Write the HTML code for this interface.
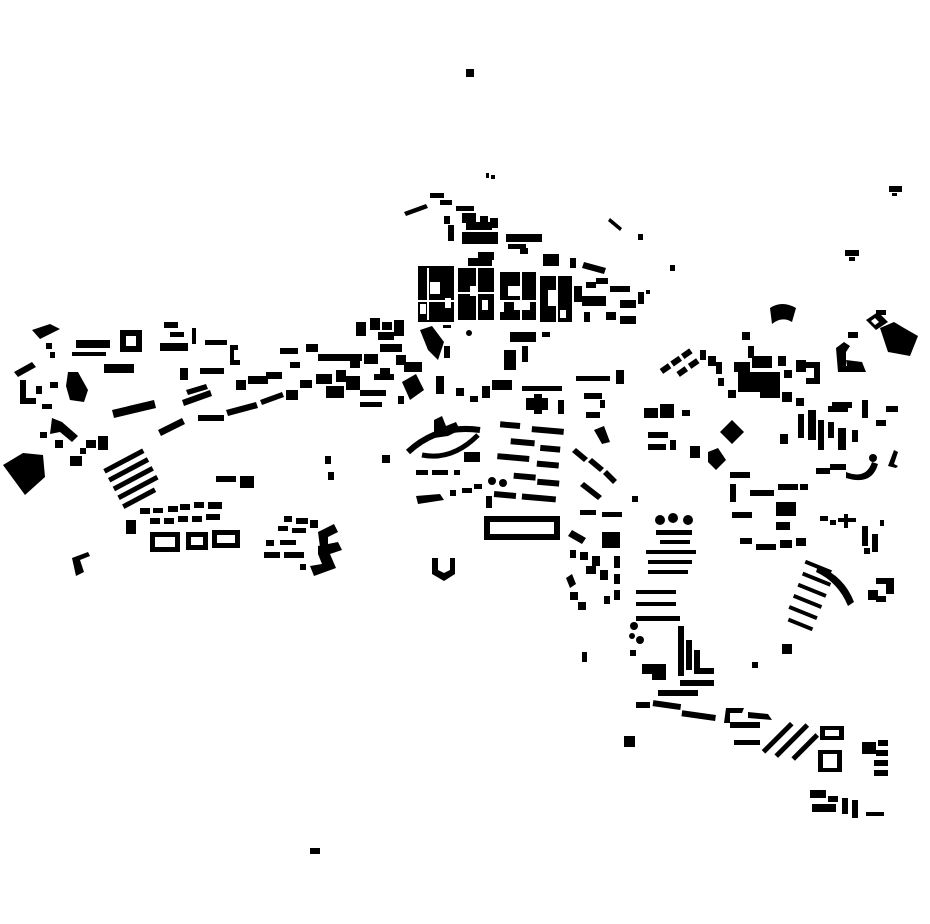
<!DOCTYPE html>
<html><head><meta charset="utf-8"><style>html,body{margin:0;padding:0;background:#fff}svg{display:block}</style></head>
<body>
<svg width="930" height="924" viewBox="0 0 930 924" xmlns="http://www.w3.org/2000/svg">
<g fill="#000">
<rect x="466" y="69" width="8" height="8"/>
<rect x="486" y="173" width="3" height="5"/><rect x="491" y="175" width="4" height="4"/>
<rect x="889" y="186" width="13" height="6"/><rect x="892" y="193" width="5" height="3"/>
<rect x="845" y="250" width="14" height="6"/><rect x="849" y="257" width="6" height="4"/>
<rect x="310" y="848" width="10" height="6"/>
<rect x="624" y="736" width="11" height="11"/>
<rect x="582" y="652" width="5" height="10"/>
<path d="M432 558h6v12l6 3 6-3v-12h5v16l-11 7-12-7z"/>
<rect x="670" y="265" width="5" height="6"/>
<path d="M3 465l20-12 20 2 2 22-20 18z"/>
<path d="M32 330l18-6 10 5-20 10z"/>
<rect x="46" y="343" width="6" height="6"/><rect x="50" y="352" width="5" height="6"/>
<path d="M14 372l18-10 4 5-18 10z"/>
<rect x="20" y="380" width="6" height="24"/><rect x="20" y="398" width="16" height="6"/>
<rect x="36" y="386" width="6" height="8"/><rect x="42" y="404" width="10" height="5"/>
<path d="M52 418l10 4 16 14-6 6-12-10-10 2z"/>
<rect x="40" y="432" width="7" height="6"/><rect x="55" y="440" width="8" height="8"/>
<rect x="70" y="456" width="12" height="10"/><rect x="86" y="440" width="10" height="8"/>
<rect x="98" y="436" width="10" height="14"/><rect x="80" y="448" width="6" height="6"/>
<path d="M68 372l10 0 10 18-4 12-14-2-4-14z"/>
<rect x="76" y="340" width="34" height="8"/><rect x="72" y="352" width="34" height="4"/>
<rect x="50" y="382" width="8" height="6"/>
<path d="M120 330h22v22h-22zm6 6v10h10v-10z" fill-rule="evenodd"/>
<rect x="104" y="364" width="30" height="9"/>
<path d="M112 410l42-10 2 8-42 10z"/>
<path d="M158 430l24-12 3 6-24 12z"/>
<rect x="160" y="343" width="28" height="8"/><rect x="164" y="322" width="14" height="6"/>
<rect x="170" y="332" width="14" height="5"/><rect x="192" y="328" width="4" height="16"/>
<rect x="205" y="340" width="22" height="5"/>
<path d="M230 345h8v5h-4v10h6v5h-10z"/>
<rect x="180" y="368" width="8" height="12"/><rect x="200" y="368" width="24" height="6"/>
<path d="M182 400l28-10 2 6-28 10z"/><path d="M186 390l20-6 2 5-20 6z"/>
<rect x="198" y="415" width="26" height="6"/>
<rect x="236" y="380" width="10" height="10"/><rect x="248" y="376" width="20" height="8"/>
<path d="M226 410l30-8 2 6-30 8z"/>
<path d="M260 400l22-8 2 5-22 8z"/>
<rect x="266" y="372" width="16" height="7"/>
<g transform="rotate(-28 140 470)">
<rect x="108" y="452" width="44" height="5"/><rect x="108" y="462" width="44" height="5"/>
<rect x="108" y="472" width="44" height="5"/><rect x="108" y="482" width="44" height="5"/>
<rect x="108" y="492" width="36" height="5"/>
</g>
<rect x="126" y="520" width="10" height="14"/>
<rect x="216" y="476" width="20" height="6"/><rect x="240" y="476" width="14" height="12"/>
<rect x="140" y="508" width="10" height="6"/><rect x="153" y="508" width="10" height="5"/>
<rect x="168" y="506" width="10" height="6"/><rect x="180" y="504" width="10" height="6"/>
<rect x="194" y="502" width="10" height="6"/><rect x="208" y="502" width="14" height="7"/>
<rect x="150" y="518" width="10" height="6"/><rect x="164" y="518" width="10" height="6"/>
<rect x="178" y="516" width="10" height="6"/><rect x="192" y="516" width="10" height="6"/>
<rect x="206" y="514" width="14" height="6"/>
<path d="M150 532h30v20h-30zm5 5v10h20v-10z" fill-rule="evenodd"/>
<path d="M186 532h22v18h-22zm5 5v8h12v-8z" fill-rule="evenodd"/>
<path d="M212 530h28v18h-28zm5 5v8h18v-8z" fill-rule="evenodd"/>
<path d="M72 558l16-6 2 4-10 4 4 12-8 4z"/>
<rect x="284" y="516" width="8" height="6"/><rect x="296" y="518" width="12" height="6"/>
<rect x="278" y="526" width="10" height="5"/><rect x="292" y="528" width="14" height="5"/>
<rect x="310" y="520" width="8" height="8"/>
<path d="M318 532l16-8 4 8-10 5v8l-8 2z"/>
<rect x="266" y="540" width="8" height="6"/><rect x="280" y="540" width="16" height="5"/>
<rect x="264" y="552" width="16" height="6"/><rect x="284" y="552" width="20" height="6"/>
<path d="M318 546l20-4 4 8-12 4 6 14-22 8-4-10 12-2-4-10z"/>
<rect x="300" y="564" width="6" height="6"/>
<rect x="325" y="456" width="6" height="8"/><rect x="328" y="472" width="6" height="8"/>
<rect x="382" y="455" width="8" height="8"/>
<rect x="280" y="348" width="18" height="6"/><rect x="290" y="362" width="10" height="6"/>
<rect x="286" y="390" width="12" height="10"/><rect x="300" y="380" width="12" height="8"/>
<rect x="306" y="344" width="12" height="8"/><rect x="318" y="354" width="44" height="7"/>
<rect x="316" y="374" width="16" height="10"/><rect x="326" y="386" width="18" height="12"/>
<rect x="336" y="370" width="10" height="12"/><rect x="346" y="376" width="14" height="14"/>
<rect x="350" y="358" width="10" height="10"/><rect x="364" y="354" width="14" height="10"/>
<path d="M356 322h10v14h-10z"/><rect x="370" y="318" width="10" height="12"/>
<rect x="382" y="322" width="10" height="8"/><rect x="394" y="320" width="10" height="16"/>
<rect x="378" y="332" width="16" height="8"/><rect x="380" y="344" width="22" height="8"/>
<rect x="396" y="355" width="10" height="10"/><rect x="380" y="368" width="10" height="10"/>
<rect x="360" y="390" width="26" height="6"/><rect x="374" y="374" width="20" height="6"/>
<path d="M402 382l14-8 8 16-14 10z"/>
<rect x="398" y="396" width="6" height="8"/><rect x="360" y="402" width="22" height="5"/>
<rect x="404" y="362" width="18" height="10"/>
<path d="M420 330l12-4 12 16-6 18-10-10z"/>
<rect x="444" y="346" width="6" height="12"/>
<rect x="436" y="376" width="8" height="18"/>
<rect x="456" y="388" width="8" height="8"/><rect x="470" y="396" width="8" height="6"/>
<!-- lens -->
<path d="M408 452q30-28 72-22" fill="none" stroke="#000" stroke-width="6"/>
<path d="M422 455q30 6 56-20" fill="none" stroke="#000" stroke-width="5"/>
<path d="M434 420l8-4 4 10 10-4 4 8-12 6-14 2z"/>
<rect x="464" y="452" width="16" height="10"/>
<rect x="416" y="470" width="12" height="5"/><rect x="432" y="470" width="16" height="5"/>
<rect x="454" y="470" width="6" height="5"/>
<path d="M416 496l24-2 4 6-26 4z"/><rect x="450" y="490" width="6" height="6"/>
<rect x="462" y="488" width="10" height="5"/><rect x="474" y="484" width="8" height="5"/>
<!-- dense top block -->
<path d="M404 212l22-8 2 4-22 8z"/><rect x="430" y="193" width="14" height="5"/>
<rect x="440" y="200" width="12" height="5"/><rect x="456" y="206" width="18" height="5"/>
<rect x="444" y="216" width="6" height="8"/><rect x="448" y="225" width="6" height="16"/>
<rect x="462" y="213" width="14" height="10"/><rect x="480" y="216" width="8" height="8"/>
<rect x="490" y="218" width="8" height="10"/><rect x="462" y="232" width="36" height="12"/>
<rect x="466" y="222" width="26" height="8"/>
<rect x="506" y="234" width="36" height="8"/><rect x="508" y="244" width="18" height="5"/>
<rect x="520" y="248" width="8" height="6"/><rect x="478" y="252" width="16" height="8"/>
<rect x="468" y="258" width="24" height="8"/>
<rect x="543" y="254" width="16" height="12"/><rect x="570" y="258" width="6" height="10"/>
<path d="M584 262l22 6-2 6-22-6z"/>
<path d="M610 218l12 10-2 3-12-10z"/><rect x="638" y="234" width="5" height="6"/>
<rect x="418" y="266" width="36" height="56"/><rect x="458" y="268" width="36" height="52"/>
<rect x="500" y="272" width="36" height="48"/><rect x="540" y="276" width="32" height="46"/>
<g fill="#fff">
<rect x="430" y="282" width="10" height="12"/><rect x="445" y="298" width="6" height="10"/>
<rect x="427" y="268" width="2" height="52"/><rect x="418" y="300" width="36" height="2"/>
<rect x="470" y="286" width="8" height="10"/><rect x="482" y="300" width="6" height="10"/>
<rect x="476" y="268" width="2" height="52"/><rect x="458" y="292" width="36" height="2"/>
<rect x="508" y="286" width="14" height="10"/><rect x="514" y="302" width="16" height="8"/>
<rect x="500" y="300" width="36" height="2"/><rect x="520" y="272" width="2" height="48"/>
<rect x="548" y="290" width="8" height="16"/><rect x="560" y="310" width="6" height="8"/>
<rect x="556" y="276" width="2" height="46"/>
<rect x="420" y="304" width="6" height="10"/><rect x="500" y="302" width="4" height="10"/>
</g>
<rect x="574" y="286" width="8" height="16"/><rect x="586" y="282" width="10" height="6"/>
<rect x="596" y="278" width="12" height="6"/><rect x="582" y="296" width="24" height="10"/>
<rect x="610" y="286" width="20" height="6"/><rect x="620" y="300" width="16" height="8"/>
<rect x="606" y="312" width="10" height="8"/><rect x="620" y="316" width="16" height="8"/>
<rect x="584" y="312" width="6" height="10"/><rect x="638" y="292" width="6" height="12"/>
<rect x="646" y="290" width="4" height="4"/>
<rect x="443" y="325" width="8" height="3"/><circle cx="469" cy="333" r="3"/>
<rect x="510" y="332" width="26" height="10"/><rect x="542" y="332" width="8" height="5"/>
<rect x="504" y="350" width="12" height="20"/><rect x="522" y="346" width="6" height="16"/>
<rect x="492" y="380" width="20" height="10"/><rect x="522" y="386" width="40" height="5"/>
<rect x="482" y="386" width="8" height="12"/>
<path d="M526 398h8v-4h8v4h6v12h-6v4h-8v-4h-8z"/><rect x="558" y="400" width="6" height="14"/>
<g transform="rotate(5 530 450)">
<rect x="498" y="424" width="20" height="6"/><rect x="530" y="426" width="32" height="6"/>
<rect x="510" y="440" width="24" height="6"/><rect x="540" y="444" width="20" height="6"/>
<rect x="498" y="456" width="32" height="6"/><rect x="538" y="460" width="22" height="6"/>
<rect x="516" y="474" width="22" height="6"/><rect x="540" y="478" width="22" height="6"/>
<rect x="498" y="494" width="22" height="6"/><rect x="526" y="494" width="34" height="6"/>
</g>
<circle cx="492" cy="481" r="4"/><circle cx="503" cy="483" r="4"/>
<rect x="486" y="496" width="6" height="12"/>
<path d="M484 516h76v24h-76zm6 6v12h64v-12z" fill-rule="evenodd"/>
<rect x="576" y="376" width="34" height="5"/><rect x="616" y="370" width="8" height="14"/>
<rect x="584" y="393" width="18" height="6"/><rect x="600" y="400" width="5" height="8"/>
<rect x="586" y="412" width="14" height="6"/>
<path d="M594 430l10-4 6 16-8 2z"/>
<path d="M572 452l4-4 12 10-4 4z"/><path d="M588 462l4-4 12 10-4 4z"/>
<path d="M603 474l4-4 10 10-4 4z"/><path d="M580 486l4-4 18 14-4 4z"/>
<rect x="580" y="510" width="16" height="5"/><rect x="602" y="512" width="20" height="5"/>
<rect x="632" y="496" width="6" height="6"/>
<rect x="602" y="532" width="18" height="16"/>
<path d="M568 536l4-6 14 8-4 6z"/><rect x="570" y="550" width="6" height="8"/>
<rect x="580" y="552" width="8" height="8"/>
<rect x="592" y="556" width="8" height="10"/><rect x="586" y="566" width="10" height="8"/>
<rect x="600" y="570" width="8" height="10"/><rect x="614" y="556" width="6" height="12"/>
<rect x="614" y="574" width="6" height="10"/><rect x="614" y="590" width="6" height="10"/>
<rect x="570" y="592" width="8" height="8"/><rect x="578" y="602" width="8" height="8"/>
<rect x="604" y="596" width="6" height="8"/>
<path d="M566 578l6-4 4 10-6 4z"/>
<circle cx="660" cy="520" r="5"/><circle cx="673" cy="518" r="5"/><circle cx="688" cy="520" r="5"/>
<rect x="656" y="530" width="36" height="5"/><rect x="660" y="540" width="30" height="4"/>
<rect x="646" y="550" width="50" height="4"/><rect x="648" y="560" width="44" height="4"/>
<rect x="648" y="570" width="40" height="4"/>
<rect x="636" y="590" width="40" height="4"/><rect x="636" y="602" width="40" height="4"/>
<rect x="636" y="616" width="44" height="5"/>
<circle cx="634" cy="626" r="4"/><circle cx="640" cy="640" r="4"/><circle cx="632" cy="636" r="3"/>
<rect x="630" y="650" width="6" height="6"/>
<rect x="678" y="626" width="6" height="50"/><rect x="686" y="640" width="6" height="30"/>
<path d="M694 650h6v18h14v6h-20z"/>
<rect x="642" y="664" width="24" height="10"/><rect x="652" y="670" width="14" height="10"/>
<rect x="680" y="680" width="34" height="6"/>
<rect x="636" y="702" width="14" height="6"/><rect x="658" y="690" width="40" height="6"/>
<g transform="rotate(8 680 712)">
<rect x="652" y="704" width="28" height="6"/><rect x="682" y="710" width="34" height="6"/>
</g>
<path d="M726 708h18l-2 5h-12v10h-6z"/>
<path d="M748 712l20 2 4 6-24-2z"/>
<path d="M730 722h30v6h-30z"/><rect x="734" y="740" width="26" height="5"/>
<g transform="rotate(-45 790 736)">
<rect x="760" y="726" width="40" height="5"/><rect x="766" y="738" width="44" height="5"/>
<rect x="776" y="752" width="34" height="5"/>
</g>
<path d="M820 726h24v14h-24zm5 4v6h14v-6z" fill-rule="evenodd"/>
<path d="M818 750h24v22h-24zm5 4v14h14v-14z" fill-rule="evenodd"/>
<rect x="862" y="742" width="14" height="12"/><rect x="878" y="740" width="10" height="6"/>
<rect x="876" y="750" width="12" height="6"/><rect x="874" y="760" width="14" height="6"/>
<rect x="874" y="770" width="14" height="6"/>
<rect x="810" y="790" width="16" height="8"/><rect x="812" y="804" width="24" height="8"/>
<rect x="828" y="796" width="10" height="6"/><rect x="842" y="798" width="6" height="16"/>
<rect x="852" y="800" width="6" height="18"/><rect x="866" y="812" width="18" height="4"/>
<rect x="752" y="662" width="6" height="6"/>
<rect x="644" y="408" width="14" height="10"/><rect x="660" y="404" width="14" height="14"/>
<rect x="682" y="410" width="8" height="6"/>
<rect x="648" y="432" width="20" height="6"/><rect x="648" y="444" width="18" height="6"/>
<rect x="670" y="440" width="6" height="10"/>
<path d="M720 432l12-12 12 12-12 12z"/>
<path d="M708 452l10-4 8 12-10 10-8-8z"/>
<rect x="690" y="446" width="10" height="12"/>
<g transform="rotate(-35 690 360)">
<rect x="660" y="350" width="10" height="6"/><rect x="673" y="350" width="10" height="6"/>
<rect x="686" y="350" width="10" height="6"/><rect x="672" y="362" width="10" height="6"/>
<rect x="686" y="362" width="10" height="6"/>
</g>
<rect x="700" y="350" width="6" height="10"/><rect x="708" y="356" width="8" height="10"/>
<rect x="716" y="362" width="6" height="12"/><rect x="718" y="378" width="6" height="8"/>
<rect x="742" y="332" width="8" height="8"/><rect x="748" y="346" width="6" height="12"/>
<path d="M770 308q12-8 26 0l-4 14q-10-6-20 2z"/>
<rect x="734" y="362" width="16" height="10"/><rect x="738" y="372" width="40" height="20"/>
<rect x="752" y="356" width="20" height="12"/><rect x="760" y="372" width="20" height="26"/>
<rect x="728" y="390" width="8" height="8"/><rect x="778" y="356" width="8" height="10"/>
<rect x="784" y="370" width="8" height="8"/><rect x="782" y="392" width="10" height="10"/>
<rect x="796" y="398" width="8" height="8"/><rect x="796" y="360" width="10" height="12"/>
<path d="M800 362h20v22h-14v-6h8v-10h-14z"/>
<rect x="832" y="402" width="20" height="6"/>
<rect x="808" y="410" width="8" height="30"/><rect x="798" y="414" width="6" height="24"/>
<rect x="818" y="420" width="6" height="30"/><rect x="828" y="422" width="6" height="16"/>
<rect x="838" y="428" width="8" height="22"/><rect x="852" y="430" width="6" height="12"/>
<rect x="828" y="406" width="20" height="6"/><rect x="780" y="434" width="8" height="10"/>
<rect x="830" y="464" width="16" height="6"/><rect x="816" y="468" width="14" height="6"/>
<path d="M846 472q20 8 26-10l6 2q-6 22-32 14z"/><circle cx="873" cy="458" r="4"/>
<rect x="862" y="400" width="6" height="18"/><rect x="886" y="406" width="12" height="6"/>
<rect x="876" y="420" width="10" height="6"/>
<path d="M888 466l6-16 4 2-4 12 4 2-2 2z"/>
<path d="M836 348l8-6 6 4-4 6v14h8v6h-16z"/>
<path d="M846 360l16 2 4 10-18 0z"/>
<rect x="848" y="332" width="10" height="6"/>
<path d="M866 320l12-8 10 10-12 8zm5 1l4 4 4-3-4-4z" fill-rule="evenodd"/>
<path d="M880 328l14-6 10 6 14 8-8 20-22-4z"/>
<rect x="876" y="310" width="10" height="5"/>
<rect x="730" y="472" width="20" height="6"/><rect x="750" y="490" width="24" height="6"/>
<rect x="778" y="484" width="20" height="6"/><rect x="730" y="484" width="6" height="18"/>
<rect x="732" y="512" width="20" height="6"/><rect x="776" y="502" width="20" height="14"/>
<rect x="800" y="484" width="8" height="6"/>
<rect x="740" y="538" width="12" height="6"/><rect x="756" y="544" width="20" height="6"/>
<rect x="780" y="540" width="12" height="8"/><rect x="796" y="538" width="10" height="8"/>
<rect x="776" y="522" width="14" height="8"/>
<rect x="844" y="514" width="4" height="14"/><rect x="838" y="518" width="18" height="4"/>
<rect x="820" y="516" width="8" height="5"/><rect x="830" y="520" width="6" height="5"/>
<rect x="862" y="526" width="6" height="20"/><rect x="872" y="534" width="6" height="18"/>
<rect x="864" y="548" width="6" height="6"/>
<path d="M818 566q26 10 36 36l-6 4q-10-24-32-34z"/>
<g transform="rotate(22 820 600)">
<rect x="792" y="568" width="28" height="4"/><rect x="794" y="580" width="30" height="4"/>
<rect x="794" y="592" width="30" height="4"/><rect x="794" y="604" width="30" height="4"/>
<rect x="794" y="616" width="30" height="4"/><rect x="798" y="628" width="26" height="4"/>
</g>
<rect x="782" y="644" width="10" height="10"/>
<rect x="876" y="578" width="18" height="6"/><rect x="886" y="584" width="8" height="10"/>
<rect x="868" y="590" width="10" height="10"/><rect x="876" y="596" width="10" height="6"/>
<rect x="880" y="520" width="4" height="6"/>
</g>
</svg>
</body></html>
